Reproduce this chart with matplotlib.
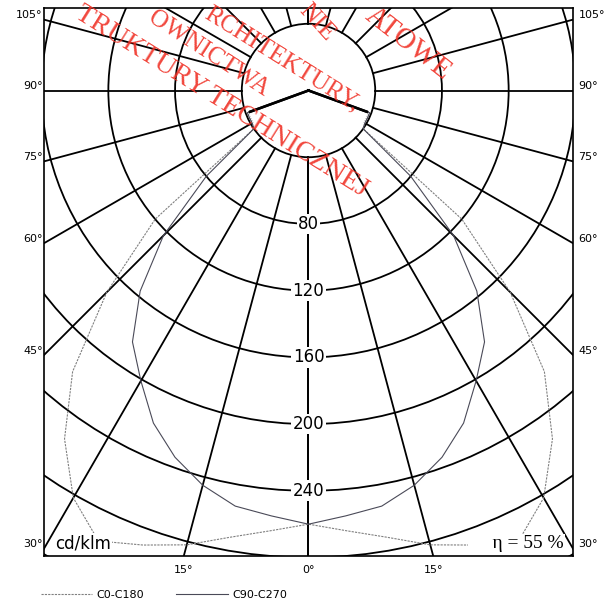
import numpy as np
import matplotlib
matplotlib.use('Agg')
import matplotlib.pyplot as plt
from matplotlib.patches import Circle

# luminous intensity in cd/klm, gamma 0..90 deg (step 5), symmetric curves
gamma = [0, 5, 10, 15, 20, 25, 30, 35, 40, 45, 50, 55, 60, 65, 70, 75, 80, 85, 90]
c0_c180 = [260, 265, 272, 282, 290, 298, 282, 255, 220, 171, 120, 40, 39, 39, 39, 0, 0, 0, 0]
c90_c270 = [260, 256, 253, 245, 234, 220, 201, 184, 157, 123, 80, 40, 39, 39, 39, 0, 0, 0, 0]

radii = [40, 80, 120, 160, 200, 240, 280, 320]
radial_labels = [80, 120, 160, 200, 240]
spoke_angles = [0, 15, 30, 45, 60, 75, 90, 105, 120, 135, 150, 165, 180]
side_labels = [30, 45, 60, 75, 90, 105]
bottom_labels = [0, 15]
eta = 55

W, H = 612, 603
s = 1.668  # px per cd/klm
fl, fr, ft, fb = 44, 573, 7.5, 556   # frame in pixels
cx, cy = 308.5, 90.5                 # pole in pixels

fig = plt.figure(figsize=(W / 100, H / 100), dpi=100)
ax = fig.add_axes([fl / W, (H - fb) / H, (fr - fl) / W, (fb - ft) / H])
x0, x1 = -(cx - fl) / s, (fr - cx) / s
y0, y1 = -(fb - cy) / s, (cy - ft) / s
ax.set_xlim(x0, x1)
ax.set_ylim(y0, y1)
ax.set_xticks([])
ax.set_yticks([])
for sp in ax.spines.values():
    sp.set_linewidth(1.2)

# grid circles
for r in radii:
    ax.add_patch(Circle((0, 0), r, fill=False, lw=1.3, edgecolor='black', zorder=2))

# spokes from the inner circle outward
for a in spoke_angles:
    t = np.radians(a)
    for side in (-1, 1):
        ax.plot([side * 40 * np.sin(t), side * 420 * np.sin(t)],
                [-40 * np.cos(t), -420 * np.cos(t)], color='black', lw=1.3, zorder=2)


def full_curve(vals):
    g = np.radians(np.array(gamma, dtype=float))
    v = np.array(vals, dtype=float)
    xs = np.concatenate([-(v * np.sin(g))[::-1], (v * np.sin(g))[1:]])
    ys = np.concatenate([-(v * np.cos(g))[::-1], -(v * np.cos(g))[1:]])
    return xs, ys


x_a, y_a = full_curve(c0_c180)
x_b, y_b = full_curve(c90_c270)
l0, = ax.plot(x_a, y_a, color='#808080', lw=0.8, ls=(0, (2, 1)), zorder=3, label='C0-C180')
l90, = ax.plot(x_b, y_b, color='#4a4a58', lw=0.8, zorder=3, label='C90-C270')

# inner part of the curves drawn heavy
inner = Circle((0, 0), 38, transform=ax.transData)
for xs, ys in ((x_a, y_a), (x_b, y_b)):
    ln, = ax.plot(xs, ys, color='black', lw=1.8, zorder=4)
    ln.set_clip_path(inner)

# radial scale labels
for r in radial_labels:
    ax.text(0, -r, str(r), ha='center', va='center', fontsize=12, zorder=5,
            bbox=dict(facecolor='white', edgecolor='none', pad=1.0))

# angle labels on both sides
for a in side_labels:
    yv = -x1 / np.tan(np.radians(a)) if a != 90 else 0.0
    ax.annotate(f'{a}°', xy=(x0, yv), xytext=(-1, 3), textcoords='offset points',
                ha='right', va='center', fontsize=8, annotation_clip=False)
    ax.annotate(f'{a}°', xy=(x1, yv), xytext=(4, 3), textcoords='offset points',
                ha='left', va='center', fontsize=8, annotation_clip=False)

for a in bottom_labels:
    xv = -y0 * np.tan(np.radians(a))
    for side in ((1,) if a == 0 else (-1, 1)):
        ax.annotate(f'{a}°', xy=(side * xv, y0), xytext=(0, -10), textcoords='offset points',
                    ha='center', va='center', fontsize=8, annotation_clip=False)

fig.text(55 / W, (H - 548) / H, 'cd/klm', fontsize=12, ha='left', va='baseline', zorder=6,
         bbox=dict(facecolor='white', edgecolor='none', pad=0.5))
fig.text(564 / W, (H - 548) / H, f'     η = {eta} %', fontsize=14, family='Liberation Serif',
         ha='right', va='baseline', zorder=6,
         bbox=dict(facecolor='white', edgecolor='none', pad=0.5))

fig.legend(handles=[l0, l90], loc='center left', bbox_to_anchor=(41 / W, (H - 595) / H),
           ncol=2, frameon=False, fontsize=8, handlelength=4.6, handletextpad=0.4,
           columnspacing=2.9, borderpad=0, borderaxespad=0)

# red stamp over the diagram (only the part visible on the sheet)
red = '#f03328'
stamp = [
    ('TRUKTURY TECHNICZNEJ', 362, 197, -32, 20),
    ('OWNICTWA', 263, 97, -33, 18),
    ('RCHITEKTURY,', 355, 112, -32, 18),
    ('NIE', 326, 42, -48, 18),
    ('ATOWE', 444, 80, -38, 21),
]
for txt, px, py, rot, fs in stamp:
    fig.text(px / W, (H - py) / H, txt, color=red, alpha=0.9, fontsize=fs,
             family='Liberation Serif', rotation=rot, rotation_mode='anchor',
             ha='right', va='baseline', zorder=10)

fig.savefig('out.png', dpi=100)
